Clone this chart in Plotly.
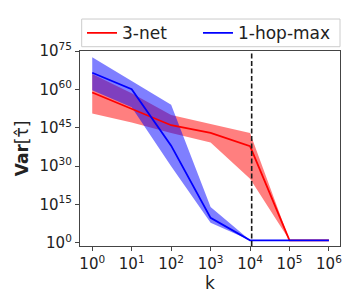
import plotly.graph_objects as go

k = [1, 10, 100, 1000, 10000, 100000, 1000000]

# log10 of Var values
net3_mid = [58.8, 52.5, 46.0, 43.0, 37.8, 1.0, 1.0]
net3_hi = [66.0, 58.5, 50.0, 46.5, 43.0, 1.0, 1.0]
net3_lo = [50.6, 47.1, 43.0, 39.2, 25.1, 1.0, 1.0]

hop_mid = [66.5, 60.1, 38.0, 9.8, 1.0, 1.0, 1.0]
hop_hi = [72.6, 63.4, 54.0, 14.0, 1.0, 1.0, 1.0]
hop_lo = [59.7, 53.0, 30.0, 7.9, 1.0, 1.0, 1.0]

x_tick_exp = [0, 1, 2, 3, 4, 5, 6]
y_tick_exp = [0, 15, 30, 45, 60, 75]

vline_k = 11000

def p(v):
    return [10.0 ** x for x in v]

fig = go.Figure()
for hi, lo, fcol in [
    (net3_hi, net3_lo, "rgba(255,0,0,0.5)"),
    (hop_hi, hop_lo, "rgba(0,0,255,0.5)"),
]:
    fig.add_trace(go.Scatter(x=k + k[::-1], y=p(hi) + p(lo)[::-1], fill="toself",
                             fillcolor=fcol, line=dict(width=0), mode="lines",
                             showlegend=False, hoverinfo="skip"))
for mid, col, name, lg in [(net3_mid, "#ff0000", "3-net", "legend"),
                           (hop_mid, "#0000ff", "1-hop-max", "legend2")]:
    fig.add_trace(go.Scatter(x=k, y=p(mid), mode="lines", line=dict(color=col, width=1.8),
                             name=name, legend=lg))

fig.add_shape(type="line", x0=vline_k, x1=vline_k, y0=0, y1=1, xref="x", yref="paper",
              line=dict(color="#1a1a1a", width=1.6, dash="5px,2.5px"))
# legend frame
fig.add_shape(type="rect", xref="paper", yref="paper", x0=0.0065, x1=1.0, y0=1.022, y1=1.164,
              line=dict(color="#cccccc", width=1), fillcolor="white", layer="below")

FONT = "DejaVu Sans"
axis_common = dict(showline=True, linecolor="#444444", linewidth=1.3, mirror=True,
                   ticks="outside", ticklen=4, tickcolor="#444444", showgrid=False,
                   zeroline=False, automargin=False,
                   tickfont=dict(family=FONT, size=15, color="#222222"))

fig.update_xaxes(type="log", range=[-0.31, 6.28],
                 tickvals=[10.0 ** e for e in x_tick_exp],
                 ticktext=[f"10<sup>{e}</sup>" for e in x_tick_exp],
                 **axis_common)
fig.update_yaxes(type="log", range=[-1.2, 75.0],
                 tickvals=[10.0 ** e for e in y_tick_exp],
                 ticktext=[f"10<sup>{e}</sup>" for e in y_tick_exp],
                 title=dict(text="<b>Var</b>[τ̂]", font=dict(family=FONT, size=17, color="#222222"), standoff=6),
                 **axis_common)

fig.add_annotation(text="k", xref="paper", yref="paper", x=0.5, y=-0.19,
                   xanchor="center", yanchor="middle", showarrow=False,
                   font=dict(family=FONT, size=17, color="#222222"))

leg_common = dict(orientation="h", xanchor="left", yanchor="middle", y=1.091,
                  bgcolor="rgba(0,0,0,0)", borderwidth=0,
                  font=dict(family=FONT, size=17, color="#222222"), itemwidth=30)

fig.update_layout(
    width=354, height=304,
    margin=dict(l=80, r=14, t=51, b=58),
    plot_bgcolor="white", paper_bgcolor="white",
    legend=dict(x=0.0077, **leg_common),
    legend2=dict(x=0.4538, **leg_common),
)

fig.write_html("out.html", post_script="document.body.style.margin='0';",
               config={"displayModeBar": False})
